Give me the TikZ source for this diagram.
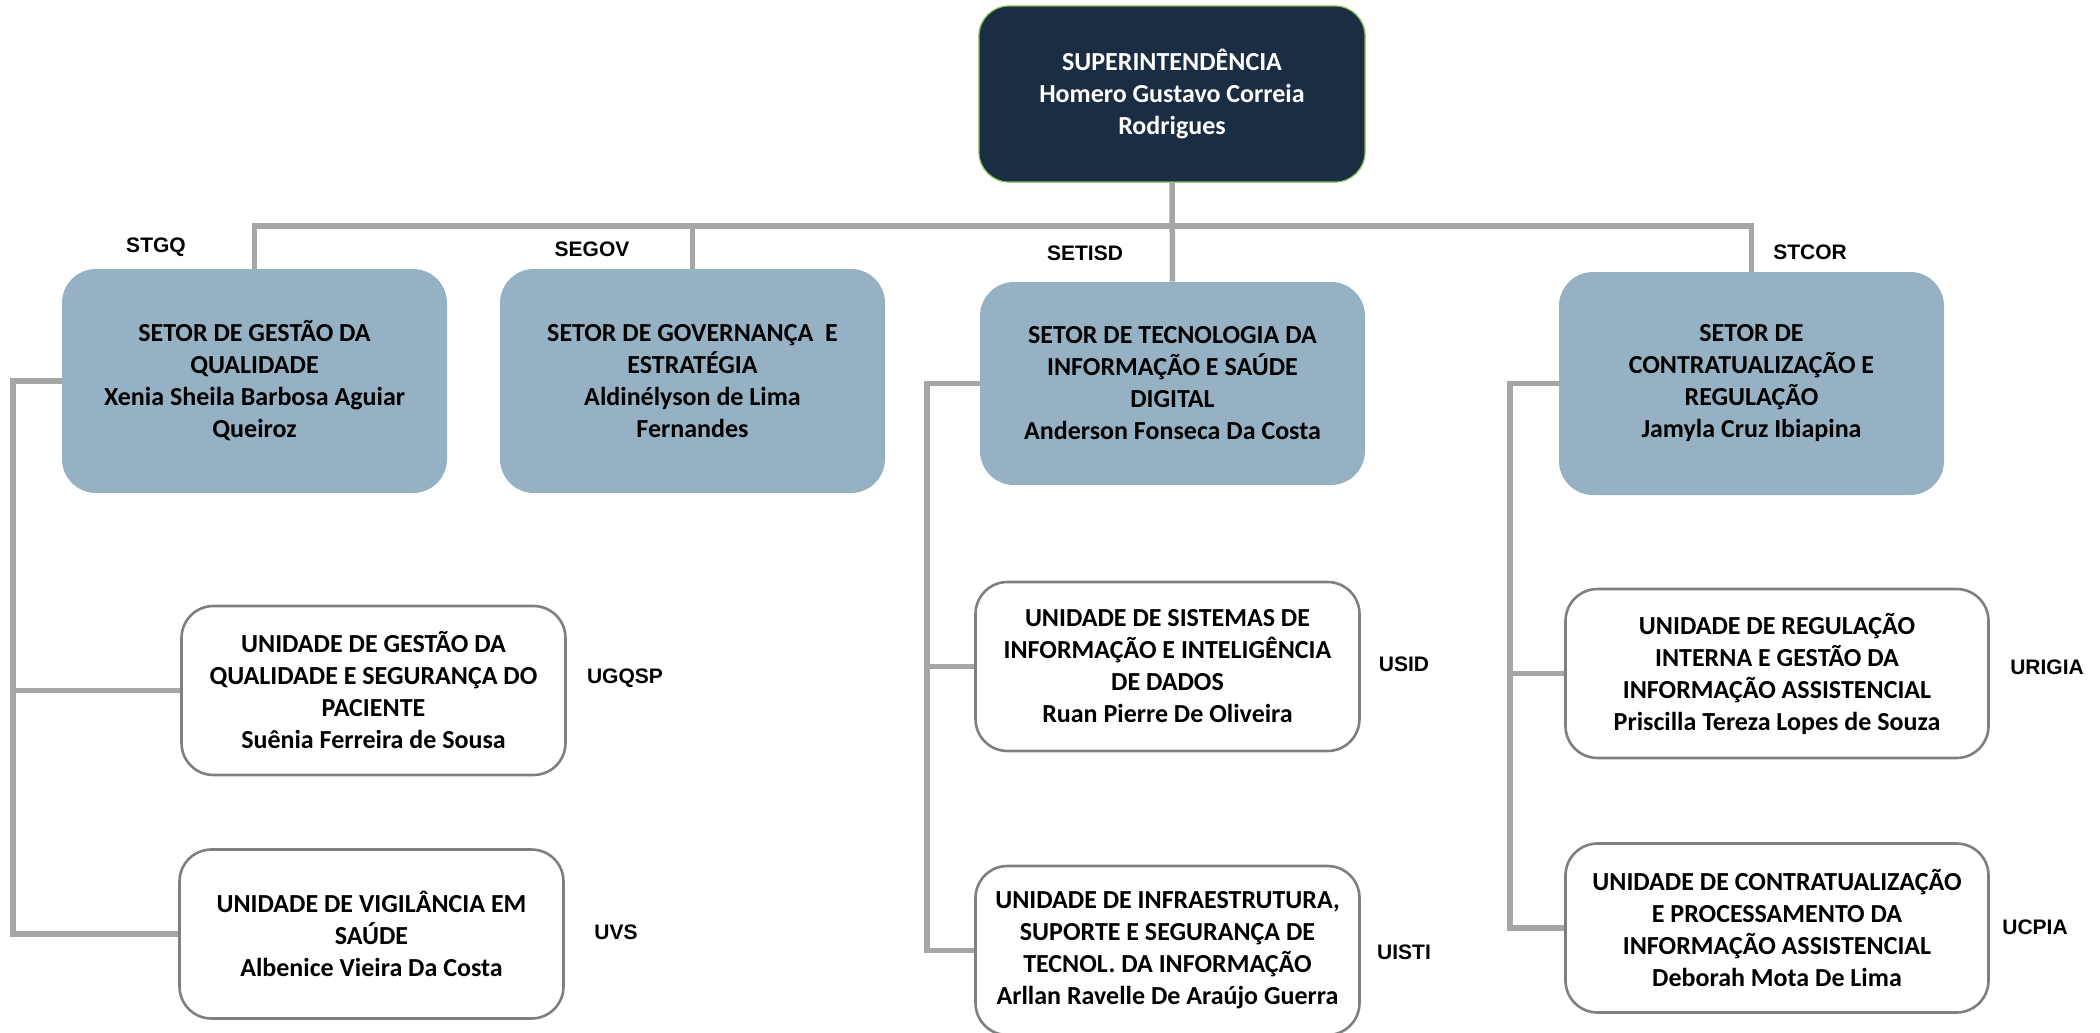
\documentclass[tikz,border=0pt]{standalone}
\usepackage{fontspec}
\setmainfont{Carlito}
\newfontfamily\tagfont{Liberation Sans}
\usepackage{tikz}

\definecolor{navy}{HTML}{1A2D42}
\definecolor{steel}{HTML}{97B1C4}
\definecolor{linkgray}{HTML}{A6A6A6}
\definecolor{boxgray}{HTML}{7F7F7F}
\definecolor{rimgreen}{HTML}{7DBB4A}

\begin{document}
\begin{tikzpicture}[x=0.5pt, y=-0.5pt,
  boxtext/.style={align=center, inner sep=2pt, font=\fontsize{13}{16}\selectfont\bfseries},
  head/.style={boxtext, draw=rimgreen, line width=0.6pt, fill=navy, text=white, rounded corners=15pt, minimum width=193pt, minimum height=88pt},
  sector/.style={boxtext, fill=steel, rounded corners=17pt, minimum width=192.5pt},
  unit/.style={boxtext, draw=boxgray, line width=1.3pt, fill=white, rounded corners=16pt, minimum width=192pt, minimum height=84.5pt},
  tag/.style={font=\tagfont\fontsize{10.5}{12}\selectfont\bfseries},
  link/.style={draw=linkgray, line width=2.75pt}]
  \useasboundingbox (0,0) rectangle (2100,1033);
  \clip (0,0) rectangle (2100,1033);

  % top
  \node [head] (sup) at (1172, 94) {SUPERINTENDÊNCIA\\Homero Gustavo Correia\\Rodrigues};

  % sectors
  \node [sector, minimum height=112pt] (stgq) at (254.5, 381) {SETOR DE GESTÃO DA\\QUALIDADE\\Xenia Sheila Barbosa Aguiar\\Queiroz};
  \node [sector, minimum height=112pt] (segov) at (692.5, 381) {SETOR DE GOVERNANÇA\ \ E\\ESTRATÉGIA\\Aldinélyson de Lima\\Fernandes};
  \node [sector, minimum height=101.5pt] (setisd) at (1172.5, 383.5) {SETOR DE TECNOLOGIA DA\\INFORMAÇÃO E SAÚDE\\DIGITAL\\Anderson Fonseca Da Costa};
  \node [sector, minimum height=111.5pt] (stcor) at (1751.5, 383.5) {SETOR DE\\CONTRATUALIZAÇÃO E\\REGULAÇÃO\\Jamyla Cruz Ibiapina};

  \node [tag] (tstgq) at (156, 247) {STGQ};
  \node [tag] (tsegov) at (592, 249) {SEGOV};
  \node [tag] (tsetisd) at (1085, 253) {SETISD};
  \node [tag] (tstcor) at (1810, 252) {STCOR};

  % units
  \node [unit] (ugqsp) at (373.5, 690.5) {UNIDADE DE GESTÃO DA\\QUALIDADE E SEGURANÇA DO\\PACIENTE\\Suênia Ferreira de Sousa};
  \node [unit] (uvs) at (371.5, 934) {UNIDADE DE VIGILÂNCIA EM\\SAÚDE\\Albenice Vieira Da Costa};
  \node [unit] (usid) at (1167.5, 666.5) {UNIDADE DE SISTEMAS DE\\INFORMAÇÃO E INTELIGÊNCIA\\DE DADOS\\Ruan Pierre De Oliveira};
  \node [unit] (uisti) at (1167.5, 950.5) {UNIDADE DE INFRAESTRUTURA,\\SUPORTE E SEGURANÇA DE\\TECNOL. DA INFORMAÇÃO\\Arllan Ravelle De Araújo Guerra};
  \node [unit, minimum width=211.5pt] (urigia) at (1777, 673.5) {UNIDADE DE REGULAÇÃO\\INTERNA E GESTÃO DA\\INFORMAÇÃO ASSISTENCIAL\\Priscilla Tereza Lopes de Souza};
  \node [unit, minimum width=211.5pt] (ucpia) at (1777, 928) {UNIDADE DE CONTRATUALIZAÇÃO\\E PROCESSAMENTO DA\\INFORMAÇÃO ASSISTENCIAL\\Deborah Mota De Lima};

  \node [tag] (tugqsp) at (625, 678) {UGQSP};
  \node [tag] (tuvs) at (616, 932) {UVS};
  \node [tag] (tusid) at (1404, 664) {USID};
  \node [tag] (tuisti) at (1404, 952) {UISTI};
  \node [tag] (turigia) at (2047, 667) {URIGIA};
  \node [tag] (tucpia) at (2035, 927) {UCPIA};

  % links
  \coordinate (bus) at (1172, 226);
  \path [link] (sup) -- (setisd);
  \path [link] (stgq.north) |- (bus) -| (stcor.north);
  \path [link] (segov.north) -- (segov.north |- bus);

  \coordinate (qbar) at (13, 0);
  \path [link] (stgq.west) -| (qbar |- uvs.west) -- (uvs.west);
  \path [link] (qbar |- ugqsp.west) -- (ugqsp.west);

  \coordinate (tbar) at (927, 0);
  \path [link] (setisd.west) -| (tbar |- uisti.west) -- (uisti.west);
  \path [link] (tbar |- usid.west) -- (usid.west);

  \coordinate (cbar) at (1510, 0);
  \path [link] (stcor.west) -| (cbar |- ucpia.west) -- (ucpia.west);
  \path [link] (cbar |- urigia.west) -- (urigia.west);
\end{tikzpicture}
\end{document}
